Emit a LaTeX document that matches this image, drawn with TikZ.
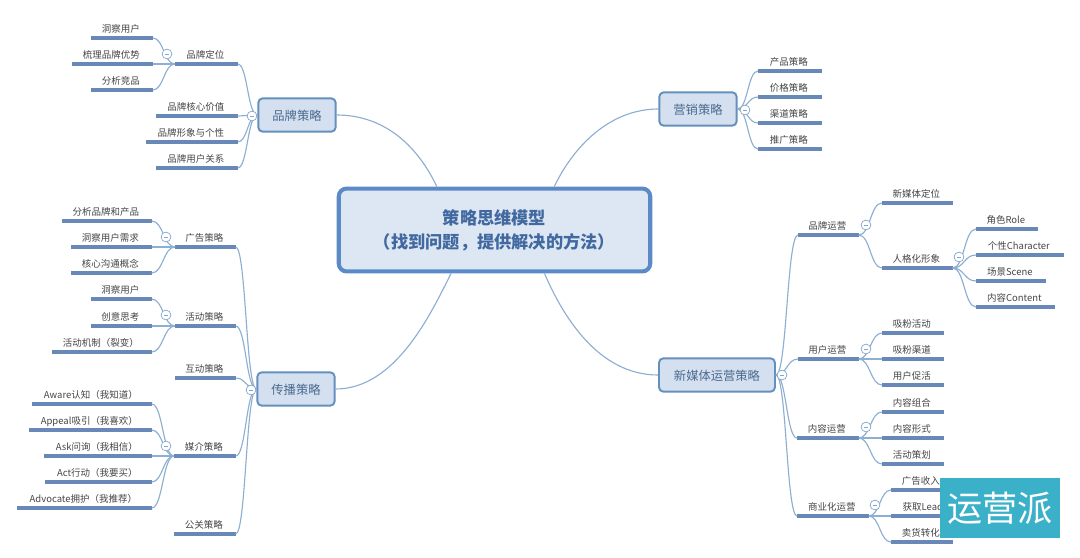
\documentclass[tikz,border=0pt]{standalone}
\usepackage{fontspec}
\setmainfont{Noto Sans CJK SC}
\usetikzlibrary{calc}
\definecolor{rootfill}{HTML}{DDE6F3}
\definecolor{rootline}{HTML}{5B8AC6}
\definecolor{rootink}{HTML}{41699F}
\definecolor{boxfill}{HTML}{D4E0F0}
\definecolor{boxline}{HTML}{6390BF}
\definecolor{boxink}{HTML}{4A6A8E}
\definecolor{linkline}{HTML}{8DAFD2}
\definecolor{underline}{HTML}{6888B8}
\definecolor{topicink}{HTML}{454545}
\definecolor{badgefill}{HTML}{3BB0C9}
\tikzset{
  rootbox/.style={draw=rootline,fill=rootfill,line width=2.3pt,rounded corners=4.5pt,
    text=rootink,align=center,font=\fontsize{9.8}{13.6}\selectfont\bfseries,inner sep=0pt,
    minimum width=177.3pt,minimum height=47.2pt},
  branchbox/.style={draw=boxline,fill=boxfill,line width=1.1pt,rounded corners=2.5pt,
    text=boxink,font=\fontsize{7}{8}\selectfont,inner sep=0pt,minimum height=19pt,
    text height=7pt,text depth=0.6pt},
  topic/.style={text=topicink,font=\fontsize{5.4}{6}\selectfont,inner sep=0pt,
    text height=5.8pt,text depth=3.2pt},
  under/.style={draw=underline,line width=2pt},
  link/.style={draw=linkline,line width=0.65pt},
  fold/.style={circle,draw=boxline!80,fill=white,line width=0.4pt,inner sep=0pt,minimum size=5.6pt,
    path picture={\draw[boxline!80,line width=0.35pt]
      ([xshift=1.4pt]path picture bounding box.west) -- ([xshift=-1.4pt]path picture bounding box.east);}},
  badge/.style={fill=badgefill,text=white,inner sep=0pt,minimum width=68pt,minimum height=34pt,
    font=\fontsize{20}{22}\selectfont},
}
% etiqueta con su raya debajo
\newcommand{\topicnode}[5]{
  \node[topic,minimum width={(#3-#2)*0.02cm},anchor=south west] (#1) at (#2,#4) {#5\hspace*{1.1pt}};
  \draw[under] (#1.south west) -- (#1.south east);
}
% curva entre dos puntos, vertical a media distancia
\newcommand{\linknodes}[2]{
  \draw[link] let \p1=(#1), \p2=(#2), \n1={0.5*(\x2-\x1)} in
    (\p1) .. controls +(\n1,0) and +(-\n1,0) .. (\p2);
}
\begin{document}
\begin{tikzpicture}[x=0.02cm,y=-0.02cm]
  \useasboundingbox (0,0) rectangle (1080,558);

  % Nodo central
  \node[rootbox] (root) at (494.5,230) {策略思维模型\\（找到问题，提供解决的方法）};

  % Cuatro ramas
  \node[branchbox,minimum width=44pt] (brand) at (297,115) {品牌策略};
  \node[branchbox,minimum width=44pt] (market) at (698,109) {营销策略};
  \node[branchbox,minimum width=44pt] (spread) at (296,389) {传播策略};
  \node[branchbox,minimum width=66pt] (media) at (717,375) {新媒体运营策略};

  \draw[link] (brand.east) .. controls +(50,0) and +(-18,-38) .. (root.143.8);
  \draw[link] (market.west) .. controls +(-50,0) and +(18,-38) .. (root.36.2);
  \draw[link] (spread.east) .. controls +(60,0) and +(-20,40) .. (root.225.4);
  \draw[link] (media.west) .. controls +(-60,0) and +(18,42) .. (root.319.1);

  % Rama superior izquierda
  \topicnode{brandpos}{175}{237}{64}{品牌定位}
  \topicnode{brandcore}{156}{237}{116}{品牌核心价值}
  \topicnode{brandimage}{146}{237}{142}{品牌形象与个性}
  \topicnode{brandrel}{156}{237}{168}{品牌用户关系}
  \topicnode{posuser}{91}{152}{38}{洞察用户}
  \topicnode{posmerit}{72}{152}{64}{梳理品牌优势}
  \topicnode{posrival}{91}{152}{90}{分析竞品}
  \foreach \kid in {brandpos,brandcore,brandimage,brandrel}
    {\linknodes{brand.west}{\kid.south east}}
  \foreach \kid in {posuser,posmerit,posrival}
    {\linknodes{brandpos.south west}{\kid.south east}}
  \node[fold] (foldbrand) at (252,116) {};
  \node[fold] (foldpos) at (167,54) {};

  % Rama superior derecha
  \topicnode{mkproduct}{758}{821}{71}{产品策略}
  \topicnode{mkprice}{758}{821}{97}{价格策略}
  \topicnode{mkchannel}{758}{821}{123}{渠道策略}
  \topicnode{mkpromo}{758}{821}{149}{推广策略}
  \foreach \kid in {mkproduct,mkprice,mkchannel,mkpromo}
    {\linknodes{market.east}{\kid.south west}}
  \node[fold] (foldmarket) at (745,110) {};

  % Rama inferior izquierda
  \topicnode{spad}{175}{235}{247}{广告策略}
  \topicnode{spevent}{175}{235}{326}{活动策略}
  \topicnode{spinter}{175}{235}{378}{互动策略}
  \topicnode{spchan}{174}{235}{456}{媒介策略}
  \topicnode{sppr}{174}{235}{534}{公关策略}
  \topicnode{adbrand}{62}{151}{221}{分析品牌和产品}
  \topicnode{adneed}{71}{151}{247}{洞察用户需求}
  \topicnode{adidea}{71}{151}{273}{核心沟通概念}
  \topicnode{evuser}{91}{151}{299}{洞察用户}
  \topicnode{evthink}{91}{151}{326}{创意思考}
  \topicnode{evrule}{52}{151}{352}{活动机制（裂变）}
  \topicnode{chaware}{32}{151}{404}{Aware认知（我知道）}
  \topicnode{chappeal}{29}{151}{430}{Appeal吸引（我喜欢）}
  \topicnode{chask}{44}{151}{456}{Ask问询（我相信）}
  \topicnode{chact}{45}{151}{482}{Act行动（我要买）}
  \topicnode{chadv}{17}{151}{508}{Advocate拥护（我推荐）}
  \foreach \kid in {spad,spevent,spinter,spchan,sppr}
    {\linknodes{spread.west}{\kid.south east}}
  \foreach \kid in {adbrand,adneed,adidea}
    {\linknodes{spad.south west}{\kid.south east}}
  \foreach \kid in {evuser,evthink,evrule}
    {\linknodes{spevent.south west}{\kid.south east}}
  \foreach \kid in {chaware,chappeal,chask,chact,chadv}
    {\linknodes{spchan.south west}{\kid.south east}}
  \node[fold] (foldspread) at (251,390) {};
  \node[fold] (foldad) at (166,237) {};
  \node[fold] (foldevent) at (166,315) {};
  \node[fold] (foldchan) at (166,446) {};

  % Rama inferior derecha
  \topicnode{mdbrand}{798}{858}{235}{品牌运营}
  \topicnode{mduser}{798}{858}{359}{用户运营}
  \topicnode{mdcontent}{797}{858}{438}{内容运营}
  \topicnode{mdbiz}{797}{868}{516}{商业化运营}
  \topicnode{bdpos}{882}{952}{203}{新媒体定位}
  \topicnode{bdperson}{882}{952}{268}{人格化形象}
  \topicnode{psrole}{976}{1037}{229}{角色Role}
  \topicnode{pschar}{976}{1063}{255}{个性Character}
  \topicnode{psscene}{976}{1045}{281}{场景Scene}
  \topicnode{pscontent}{976}{1054}{307}{内容Content}
  \topicnode{usevent}{882}{943}{333}{吸粉活动}
  \topicnode{uschan}{882}{943}{359}{吸粉渠道}
  \topicnode{uspromo}{882}{943}{385}{用户促活}
  \topicnode{ctmix}{882}{943}{412}{内容组合}
  \topicnode{ctform}{882}{943}{438}{内容形式}
  \topicnode{ctplan}{882}{943}{464}{活动策划}
  \topicnode{bzad}{891}{952}{490}{广告收入}
  \topicnode{bzlead}{891}{956}{516}{获取Lead}
  \topicnode{bzsell}{891}{952}{542}{卖货转化}
  \foreach \kid in {mdbrand,mduser,mdcontent,mdbiz}
    {\linknodes{media.east}{\kid.south west}}
  \foreach \kid in {bdpos,bdperson}
    {\linknodes{mdbrand.south east}{\kid.south west}}
  \foreach \kid in {psrole,pschar,psscene,pscontent}
    {\linknodes{bdperson.south east}{\kid.south west}}
  \foreach \kid in {usevent,uschan,uspromo}
    {\linknodes{mduser.south east}{\kid.south west}}
  \foreach \kid in {ctmix,ctform,ctplan}
    {\linknodes{mdcontent.south east}{\kid.south west}}
  \foreach \kid in {bzad,bzlead,bzsell}
    {\linknodes{mdbiz.south east}{\kid.south west}}
  \node[fold] (foldmedia) at (782,375) {};
  \node[fold] (foldmdbrand) at (866,225) {};
  \node[fold] (foldperson) at (959,257) {};
  \node[fold] (foldmduser) at (866,349) {};
  \node[fold] (foldmdcontent) at (866,427) {};
  \node[fold] (foldmdbiz) at (875,505) {};

  % Sello
  \node[badge] (stamp) at (1000,508) {运营派};
\end{tikzpicture}
\end{document}
